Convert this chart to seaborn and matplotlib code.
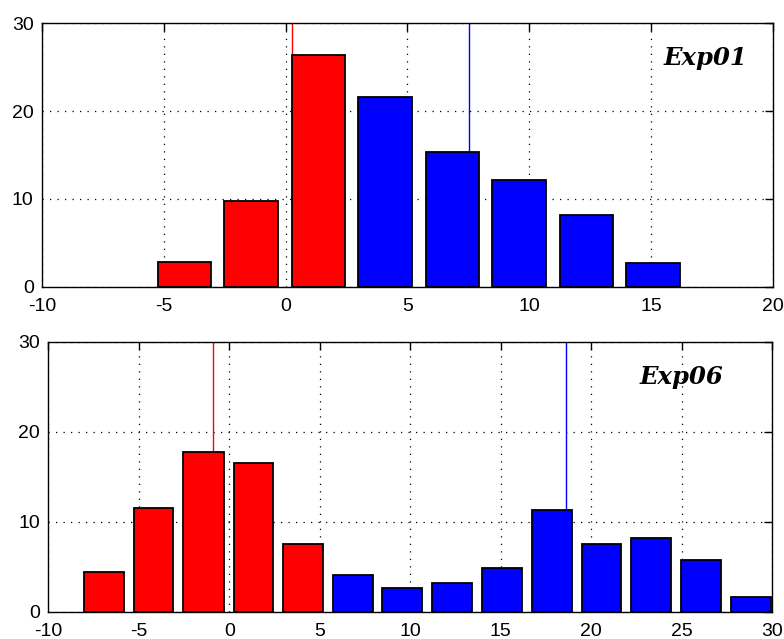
import numpy as np
import pandas as pd
import matplotlib
matplotlib.use("Agg")
import matplotlib.pyplot as plt
import seaborn as sns

# Exp01 histogram: bin centres and counts, split at the two reference lines
exp01_red_centers = [-4.13, -1.41, 1.35]
exp01_red_counts = [2.8, 9.8, 26.4]
exp01_blue_centers = [4.08, 6.85, 9.58, 12.35, 15.08]
exp01_blue_counts = [21.6, 15.4, 12.2, 8.2, 2.7]
exp01_red_line = 0.28
exp01_blue_line = 7.52

# Exp06 histogram
exp06_red_centers = [-6.94, -4.16, -1.45, 1.36, 4.08]
exp06_red_counts = [4.4, 11.5, 17.8, 16.5, 7.6]
exp06_blue_centers = [6.86, 9.57, 12.33, 15.06, 17.85, 20.58, 23.33, 26.08, 28.84]
exp06_blue_counts = [4.1, 2.7, 3.2, 4.9, 11.3, 7.6, 8.2, 5.8, 1.7]
exp06_red_line = -0.88
exp06_blue_line = 18.6

bin_width = 2.75
y_ticks = [0, 10, 20, 30]
top_xticks = [-10, -5, 0, 5, 10, 15, 20]
bottom_xticks = [-10, -5, 0, 5, 10, 15, 20, 25, 30]

sns.set_style("white")
plt.rcParams["font.family"] = ["Liberation Sans", "DejaVu Sans"]
plt.rcParams["axes.unicode_minus"] = False

RED = "#ff0000"
BLUE = "#0000ff"

fig = plt.figure(figsize=(7.84, 6.39), dpi=100)
ax_top = fig.add_axes([0.0536, 0.5513, 0.932, 0.4122])
ax_bot = fig.add_axes([0.0616, 0.0423, 0.9231, 0.4225])


def edges_for(centers):
    c = np.asarray(centers, dtype=float)
    return [float(v) for v in np.append(c - bin_width / 2, c[-1] + bin_width / 2)]


def draw_panel(ax, red_c, red_n, blue_c, blue_n, red_line, blue_line,
               xlim, xticks, label, label_x):
    ax.axvline(red_line, color=RED, lw=1.0, zorder=0.6)
    ax.axvline(blue_line, color=BLUE, lw=1.0, zorder=0.6)
    for centers, counts, col in ((red_c, red_n, RED), (blue_c, blue_n, BLUE)):
        df = pd.DataFrame({"center": centers, "count": counts})
        sns.histplot(data=df, x="center", weights="count",
                     bins=edges_for(centers), shrink=0.8, color=col,
                     alpha=1.0, edgecolor="black", linewidth=1.3,
                     ax=ax, zorder=2)
    ax.set_xlim(*xlim)
    ax.set_ylim(0, 30)
    ax.set_xticks(xticks)
    ax.set_yticks(y_ticks)
    ax.set_xlabel("")
    ax.set_ylabel("")
    ax.set_axisbelow(True)
    ax.grid(True, color="black", linestyle=(0, (1, 5)), linewidth=0.9)
    ax.tick_params(direction="in", top=True, right=True, length=6,
                   width=1.0, colors="black", labelsize=14)
    ax.tick_params(axis="x", pad=8)
    ax.tick_params(axis="y", pad=6)
    for s in ax.spines.values():
        s.set_color("black")
        s.set_linewidth(1.0)
    ax.text(label_x, 0.87, label, transform=ax.transAxes,
            family="DejaVu Serif", weight="bold", style="italic",
            fontsize=17.5, ha="left", va="center", color="black")


draw_panel(ax_top, exp01_red_centers, exp01_red_counts,
           exp01_blue_centers, exp01_blue_counts,
           exp01_red_line, exp01_blue_line,
           (-10, 20), top_xticks, "Exp01", 0.85)
draw_panel(ax_bot, exp06_red_centers, exp06_red_counts,
           exp06_blue_centers, exp06_blue_counts,
           exp06_red_line, exp06_blue_line,
           (-10, 30), bottom_xticks, "Exp06", 0.817)

fig.savefig("out.png", dpi=100)
